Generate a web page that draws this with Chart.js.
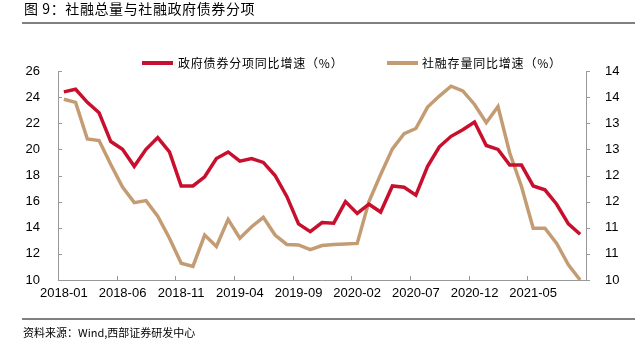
<!DOCTYPE html>
<html>
<head>
<meta charset="utf-8">
<script src="https://cdn.jsdelivr.net/npm/chart.js@4.4.0/dist/chart.umd.min.js"></script>
<style>
  body { margin: 0; background: #fff; }
  #box { position: relative; width: 635px; height: 350px; overflow: hidden; }
  canvas { position: absolute; left: 0; top: 0; }
  .txt { position: absolute; font-family: "Noto Sans CJK SC", sans-serif; color: #000; white-space: nowrap; }
  .rule { position: absolute; left: 22px; right: 0; background: #808080; }
  .key { position: absolute; height: 4px; }
</style>
</head>
<body>
<div id="box">
  <canvas id="grafico" width="635" height="350"></canvas>
  <div class="txt" style="left:24px; top:0px; font-size:14px; line-height:17px; letter-spacing:0.6px;">图 9：社融总量与社融政府债券分项</div>
  <div class="rule" style="top:22px; height:2px;"></div>

  <div class="key" style="left:142px; top:61px; width:31px; background:#C8102E;"></div>
  <div class="txt" style="left:178px; top:55px; font-size:12px; line-height:16px; letter-spacing:0.8px;">政府债券分项同比增速（%）</div>
  <div class="key" style="left:387px; top:61px; width:31px; background:#C49C74;"></div>
  <div class="txt" style="left:422px; top:55px; font-size:12px; line-height:16px; letter-spacing:0.8px;">社融存量同比增速（%）</div>

  <div class="rule" style="top:318px; height:2px;"></div>
  <div class="txt" style="left:23px; top:325px; font-size:11px; line-height:15px;">资料来源：Wind,西部证券研发中心</div>
</div>

<script>
// meses 2018-01 .. 2021-09
let meses = [
  "2018-01","2018-02","2018-03","2018-04","2018-05","2018-06","2018-07","2018-08","2018-09","2018-10","2018-11","2018-12",
  "2019-01","2019-02","2019-03","2019-04","2019-05","2019-06","2019-07","2019-08","2019-09","2019-10","2019-11","2019-12",
  "2020-01","2020-02","2020-03","2020-04","2020-05","2020-06","2020-07","2020-08","2020-09","2020-10","2020-11","2020-12",
  "2021-01","2021-02","2021-03","2021-04","2021-05","2021-06","2021-07","2021-08","2021-09"
]

// 政府债券分项同比增速 (eje izquierdo)
let gobierno = [
  24.4, 24.6, 23.6, 22.8, 20.6, 20.0, 18.7, 20.0, 20.9, 19.8,
  17.2, 17.2, 17.9, 19.3, 19.8, 19.1, 19.3, 19.0, 18.0, 16.4,
  14.3, 13.7, 14.4, 14.35, 16.0, 15.1, 15.8, 15.2, 17.2, 17.1,
  16.5, 18.7, 20.2, 21.0, 21.5, 22.1, 20.3, 20.0, 18.8, 18.8,
  17.2, 16.9, 15.8, 14.3, 13.5
]

// 社融存量同比增速 (eje derecho)
let stock = [
  13.46, 13.40, 12.70, 12.67, 12.21, 11.78, 11.48, 11.52, 11.22, 10.80,
  10.32, 10.26, 10.86, 10.64, 11.16, 10.80, 11.02, 11.20, 10.86, 10.68,
  10.67, 10.58, 10.66, 10.68, 10.69, 10.70, 11.50, 12.02, 12.51, 12.80,
  12.90, 13.31, 13.52, 13.71, 13.62, 13.36, 13.01, 13.32, 12.43, 11.79,
  10.99, 10.99, 10.70, 10.29, 10.00
]

let ejeIzq = { min: 10, max: 26, paso: 2 }
let ejeDer = { min: 10, max: 14, paso: 0.5 }

let fuenteEjes = { family: "'Liberation Sans', Arial, sans-serif", size: 13 }

// marcas cortas en los ejes (como en el original)
let marcas = {
  id: 'marcas',
  afterDraw(chart) {
    let ctx = chart.ctx
    let a = chart.chartArea
    let x = chart.scales.x
    let w = (a.right - a.left) / meses.length
    ctx.save()
    ctx.strokeStyle = '#999'
    ctx.lineWidth = 1
    ctx.beginPath()
    for (let i = 0; i <= meses.length; i += 5) {
      let px = Math.round(x.getPixelForValue(i) - w / 2) + 0.5
      ctx.moveTo(px, a.bottom)
      ctx.lineTo(px, a.bottom - 4)
    }
    chart.scales.y.ticks.forEach(t => {
      let py = Math.round(chart.scales.y.getPixelForValue(t.value)) + 0.5
      ctx.moveTo(a.left, py)
      ctx.lineTo(a.left + 4, py)
    })
    chart.scales.y1.ticks.forEach(t => {
      let py = Math.round(chart.scales.y1.getPixelForValue(t.value)) + 0.5
      ctx.moveTo(a.right, py)
      ctx.lineTo(a.right + 4, py)
    })
    ctx.stroke()
    ctx.restore()
  }
}

let cargarGrafico = () => {
  let ctx = document.getElementById("grafico").getContext("2d")
  new Chart(ctx, {
    type: "line",
    data: {
      labels: meses,
      datasets: [{
          label: "政府债券分项同比增速（%）",
          data: gobierno,
          yAxisID: "y",
          borderColor: "#C8102E",
          borderWidth: 3.5,
          pointRadius: 0,
          tension: 0,
          clip: false
        },
        {
          label: "社融存量同比增速（%）",
          data: stock,
          yAxisID: "y1",
          borderColor: "#C49C74",
          borderWidth: 3.5,
          pointRadius: 0,
          tension: 0,
          clip: false
        }
      ]
    },
    options: {
      responsive: false,
      animation: false,
      layout: { padding: { top: 71, bottom: 50, left: 0, right: 0 } },
      plugins: {
        legend: { display: false },
        tooltip: { enabled: false }
      },
      scales: {
        x: {
          offset: true,
          grid: { display: false, drawTicks: false, tickLength: 0 },
          border: { display: true, color: '#999', width: 1 },
          ticks: {
            autoSkip: false,
            maxRotation: 0,
            padding: 6,
            color: '#000',
            font: fuenteEjes,
            callback: function (v, i) { return i % 5 === 0 ? meses[i] : '' }
          },
          afterFit: s => { s.height = 20 }
        },
        y: {
          position: 'left',
          min: ejeIzq.min,
          max: ejeIzq.max,
          grid: { display: false },
          border: { display: true, color: '#999', width: 1 },
          ticks: { stepSize: ejeIzq.paso, padding: 10, color: '#000', font: fuenteEjes },
          afterFit: s => { s.width = 58 }
        },
        y1: {
          position: 'right',
          min: ejeDer.min,
          max: ejeDer.max,
          grid: { display: false },
          border: { display: true, color: '#999', width: 1 },
          ticks: {
            stepSize: ejeDer.paso,
            padding: 11,
            color: '#000',
            font: fuenteEjes,
            callback: v => Math.round(v)
          },
          afterFit: s => { s.width = 49 }
        }
      }
    },
    plugins: [marcas]
  })
}

window.addEventListener('DOMContentLoaded', () => {
  cargarGrafico()
})
</script>
</body>
</html>
